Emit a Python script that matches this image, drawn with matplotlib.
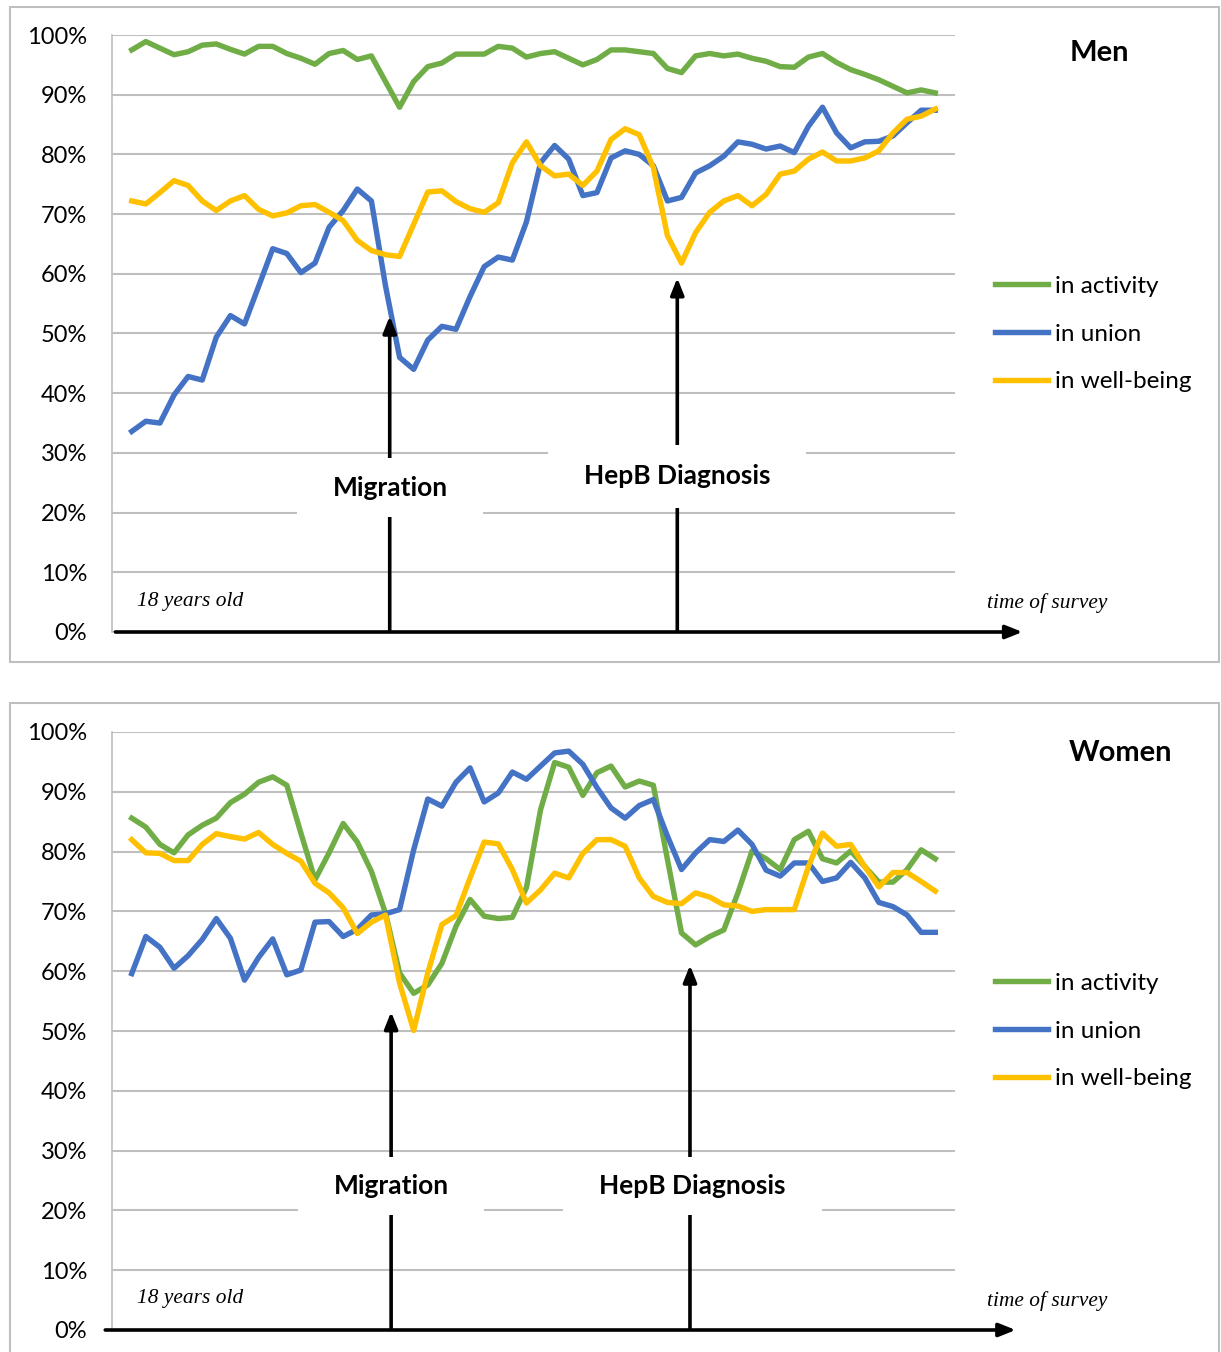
import numpy as np
import matplotlib
matplotlib.use("Agg")
import matplotlib.pyplot as plt
from matplotlib.patches import Rectangle

# survey waves from age 18 to time of survey (58 points)
men_activity = [97.5, 98.9, 97.8, 96.7, 97.2, 98.3, 98.5, 97.6, 96.8, 98.1,
                98.1, 96.9, 96.1, 95.1, 96.9, 97.4, 95.9, 96.5, 92.2, 87.9,
                92.2, 94.7, 95.3, 96.8, 96.8, 96.8, 98.1, 97.8, 96.3, 96.9,
                97.2, 96.1, 95.0, 95.9, 97.5, 97.5, 97.2, 96.9, 94.4, 93.7,
                96.5, 96.9, 96.5, 96.8, 96.1, 95.6, 94.7, 94.6, 96.3, 96.9,
                95.4, 94.2, 93.4, 92.5, 91.4, 90.3, 90.8, 90.3]
men_union = [33.6, 35.3, 35.0, 39.7, 42.8, 42.2, 49.4, 53.0, 51.6, 57.9,
             64.2, 63.4, 60.2, 61.8, 67.8, 70.6, 74.2, 72.2, 58.0, 46.0,
             44.0, 48.9, 51.2, 50.7, 56.2, 61.2, 62.8, 62.3, 68.7, 78.6,
             81.5, 79.2, 73.1, 73.6, 79.4, 80.6, 80.0, 78.1, 72.2, 72.8,
             76.9, 78.1, 79.7, 82.1, 81.7, 80.9, 81.4, 80.3, 84.7, 87.9,
             83.6, 81.1, 82.1, 82.2, 83.1, 85.3, 87.4, 87.4]
men_wellbeing = [72.2, 71.7, 73.6, 75.6, 74.8, 72.2, 70.6, 72.2, 73.1, 70.8,
                 69.7, 70.2, 71.4, 71.6, 70.3, 68.9, 65.6, 63.9, 63.2, 62.9,
                 68.3, 73.7, 73.9, 72.1, 70.9, 70.3, 71.9, 78.6, 82.1, 78.1,
                 76.4, 76.7, 74.8, 77.2, 82.5, 84.3, 83.3, 77.8, 66.4, 61.8,
                 66.9, 70.3, 72.2, 73.1, 71.4, 73.3, 76.7, 77.2, 79.2, 80.4,
                 78.9, 78.9, 79.4, 80.6, 83.6, 85.9, 86.4, 87.6]

women_activity = [85.6, 84.1, 81.2, 79.8, 82.8, 84.4, 85.6, 88.2, 89.6, 91.6,
                  92.5, 91.1, 83.1, 75.3, 79.8, 84.7, 81.6, 76.7, 69.7, 59.7,
                  56.3, 57.7, 61.3, 67.5, 72.0, 69.2, 68.8, 69.0, 74.0, 87.0,
                  94.9, 94.1, 89.4, 93.2, 94.3, 90.8, 91.8, 91.1, 78.7, 66.4,
                  64.4, 65.8, 66.9, 73.1, 80.1, 78.8, 77.0, 82.0, 83.4, 78.8,
                  78.1, 80.1, 77.5, 74.9, 74.9, 77.0, 80.3, 78.8]
women_union = [59.6, 65.8, 64.0, 60.5, 62.6, 65.3, 68.8, 65.5, 58.5, 62.3,
               65.4, 59.4, 60.2, 68.2, 68.3, 65.8, 67.0, 69.4, 69.6, 70.3,
               80.3, 88.8, 87.6, 91.6, 94.0, 88.3, 89.8, 93.3, 92.1, 94.3,
               96.5, 96.8, 94.6, 90.7, 87.3, 85.6, 87.7, 88.7, 82.6, 77.0,
               79.8, 82.0, 81.7, 83.6, 81.2, 76.9, 75.9, 78.1, 78.1, 75.0,
               75.6, 78.2, 75.6, 71.5, 70.8, 69.4, 66.5, 66.5]
women_wellbeing = [82.0, 79.8, 79.7, 78.5, 78.5, 81.2, 83.0, 82.5, 82.1, 83.2,
                   81.2, 79.7, 78.4, 74.7, 73.1, 70.6, 66.3, 68.2, 69.4, 58.0,
                   50.1, 59.7, 67.8, 69.3, 75.6, 81.6, 81.3, 77.0, 71.4, 73.6,
                   76.4, 75.6, 79.7, 82.0, 82.0, 80.9, 75.6, 72.5, 71.5, 71.3,
                   73.1, 72.4, 71.1, 70.9, 70.0, 70.3, 70.3, 70.3, 77.5, 83.1,
                   80.9, 81.2, 77.5, 74.1, 76.5, 76.5, 75.0, 73.4]

series_labels = ["in activity", "in union", "in well-being"]
colors = ["#70AD47", "#4472C4", "#FFC000"]

# events: (label, position on x, arrow tip in %)
men_events = [("Migration", 18.3, 52.9), ("HepB Diagnosis", 38.7, 59.3)]
women_events = [("Migration", 18.4, 53.2), ("HepB Diagnosis", 39.6, 61.0)]

W, H = 1221, 1352
fig = plt.figure(figsize=(W / 100, H / 100), dpi=100)
plt.rcParams['font.family'] = ['Lato', 'DejaVu Sans']


def fx(px):
    return px / W


def fy(py):
    return 1 - py / H


def panel(top, bottom, box, title, title_pos, data, events, label_boxes,
          arrow_end, legend_y):
    # frame round the panel
    fig.patches.append(Rectangle((fx(box[0]), fy(box[3])), fx(box[2] - box[0]),
                                 (box[3] - box[1]) / H, transform=fig.transFigure,
                                 fill=False, edgecolor="#BFBFBF", lw=1.5))
    left, right = 112, 955
    ax = fig.add_axes([fx(left), fy(bottom), fx(right - left), (bottom - top) / H])
    x = np.arange(len(data[0]))
    for vals, c, lab in zip(data, colors, series_labels):
        ax.plot(x, vals, color=c, lw=3.9, label=lab, zorder=3, clip_on=False,
                solid_joinstyle="round")
    ax.set_xlim(-1.4, 58.4)
    ax.set_ylim(0, 100)
    ax.set_yticks(range(0, 101, 10))
    ax.set_yticklabels([f"{v}%" for v in range(0, 101, 10)], fontsize=17)
    ax.tick_params(axis="y", length=0, pad=18)
    ax.set_xticks([])
    ax.grid(axis="y", color="#BFBFBF", lw=1.5, zorder=0)
    ax.set_axisbelow(True)
    for s in ["top", "right", "bottom"]:
        ax.spines[s].set_visible(False)
    ax.spines["left"].set_color("#BFBFBF")
    ax.spines["left"].set_linewidth(1.2)

    # event arrows, partly hidden behind the white label boxes
    for (name, ex, tip), (bx0, bx1, by0, by1) in zip(events, label_boxes):
        ax.annotate("", xy=(ex, tip), xytext=(ex, 0.3),
                    arrowprops=dict(arrowstyle="-|>,head_length=1.0,head_width=0.4",
                                    color="black", lw=2.6, shrinkA=0, shrinkB=0),
                    zorder=4)
        fig.patches.append(Rectangle((fx(bx0), fy(by1)), fx(bx1 - bx0), (by1 - by0) / H,
                                     transform=fig.transFigure, facecolor="white",
                                     edgecolor="none", zorder=5))
        fig.text(fx((bx0 + bx1) / 2), fy((by0 + by1) / 2), name, fontsize=19,
                 fontweight="bold", ha="center", va="center", zorder=6)

    # time axis arrow
    ax.annotate("", xy=(arrow_end[1], 0), xytext=(arrow_end[0], 0),
                xycoords=("axes fraction", "data"), textcoords=("axes fraction", "data"),
                arrowprops=dict(arrowstyle="-|>,head_length=1.0,head_width=0.4",
                                color="black", lw=2.6, shrinkA=0, shrinkB=0),
                annotation_clip=False, zorder=4)
    fig.text(fx(137), fy(bottom - 31), "18 years old", fontsize=15.4,
             family="Liberation Serif", style="italic", ha="left", va="center")
    fig.text(fx(987), fy(bottom - 29), "time of survey", fontsize=15.4,
             family="Liberation Serif", style="italic", ha="left", va="center")
    fig.text(fx(title_pos[0]), fy(title_pos[1]), title, fontsize=21,
             fontweight="bold", ha="left", va="center")
    fig.legend(*ax.get_legend_handles_labels(), loc="center left",
               bbox_to_anchor=(fx(995), fy(legend_y)), frameon=False, fontsize=17.5,
               handlelength=2.2, handletextpad=0.25, labelspacing=1.1,
               borderpad=0, borderaxespad=0)
    return ax


panel(35, 632, (10, 7, 1219, 662), "Men", (1070, 53),
      [men_activity, men_union, men_wellbeing], men_events,
      [(297, 483, 458, 517), (548, 806, 445, 508)], (0.004, 1.080), 334)
panel(732, 1330, (10, 703, 1219, 1365), "Women", (1069, 753),
      [women_activity, women_union, women_wellbeing], women_events,
      [(298, 484, 1157, 1215), (563, 822, 1157, 1215)], (-0.008, 1.072), 1031)

fig.savefig("out.png", dpi=100)
